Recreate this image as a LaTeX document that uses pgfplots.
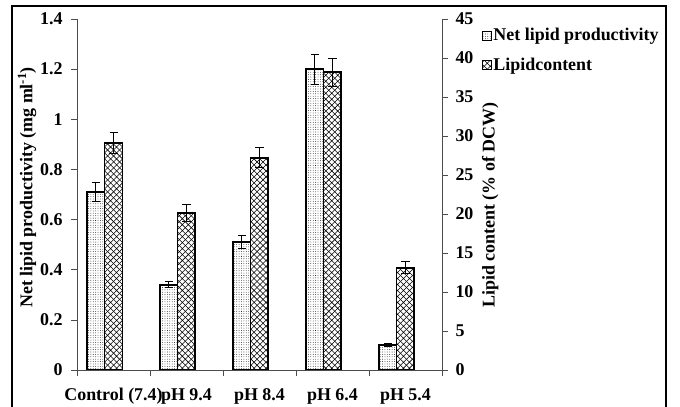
\documentclass[border=0pt]{standalone}
\usepackage{pgfplots}
\pgfplotsset{compat=1.18}
\usepackage{fontspec}
\setmainfont{Liberation Serif}
\usetikzlibrary{patterns}

% fine stipple for the productivity bars
\pgfdeclarepatternformonly{fdots}{\pgfqpoint{-1pt}{-1pt}}{\pgfqpoint{1pt}{1pt}}{\pgfqpoint{2.4pt}{2.4pt}}{%
  \pgfpathcircle{\pgfqpoint{0pt}{0pt}}{0.4pt}\pgfusepath{fill}}
% diagonal crosshatch for the lipid content bars
\pgfdeclarepatternformonly{xhatch}{\pgfqpoint{-1pt}{-1pt}}{\pgfqpoint{7pt}{7pt}}{\pgfqpoint{6pt}{6pt}}{%
  \pgfsetlinewidth{0.55pt}%
  \pgfpathmoveto{\pgfqpoint{0pt}{0pt}}\pgfpathlineto{\pgfqpoint{6pt}{6pt}}%
  \pgfpathmoveto{\pgfqpoint{0pt}{6pt}}\pgfpathlineto{\pgfqpoint{6pt}{0pt}}%
  \pgfusepath{stroke}}

\pgfplotsset{
  base/.style={
    scale only axis, width=365bp, height=351bp,
    xmin=-0.5, xmax=4.5,
    font=\fontsize{18}{20}\selectfont\bfseries,
    /pgf/number format/assume math mode=true,
    tick align=outside, major tick length=6bp,
    tick style={gray!60!black, line width=0.6pt},
    axis line style={gray!60!black, line width=0.6pt},
    ybar, bar width=17.5bp, bar shift=0bp,
  },
  errstyle/.style={error bars/.cd, y dir=both, y explicit,
    error bar style={black, line width=1pt}, error mark options={black, line width=1pt, mark size=4bp, rotate=90}},
}

\begin{document}
\begin{tikzpicture}
\path[use as bounding box] (-77bp,-37bp) rectangle (603bp,370bp);
\draw[line width=2bp] (-65bp,-45bp) -- (-65bp,364bp) -- (589bp,364bp) -- (589bp,-45bp);

\begin{axis}[base,
  axis x line*=bottom, axis y line*=left,
  ymin=0, ymax=1.4, ytick={0,0.2,...,1.4},
  yticklabel style={/pgf/number format/fixed, /pgf/number format/precision=1, xshift=-5bp},
  xtick={0,1,2,3,4},
  xticklabels={Control (7.4),pH 9.4,pH 8.4,pH 6.4,pH 5.4},
  x tick style={draw=none},
  extra x ticks={-0.5,0.5,1.5,2.5,3.5,4.5},
  extra x tick labels={},
  extra x tick style={x tick style={draw=gray!60!black}},
  xticklabel style={yshift=-9bp},
  ylabel={Net lipid productivity (mg ml\textsuperscript{-1})},
  ylabel style={at={(axis description cs:-0.137,0.52)}, anchor=center},
]
% net bars sit one bar width left of each category centre
\addplot[draw=black, line width=1.5bp, pattern=fdots, errstyle]
  coordinates {
    (-0.24,0.71) +- (0,0.036)
    (0.76,0.34) +- (0,0.012)
    (1.76,0.51) +- (0,0.027)
    (2.76,1.20) +- (0,0.060)
    (3.76,0.10) +- (0,0.005)
  };
\end{axis}

\begin{axis}[base,
  axis x line=none, axis y line*=right,
  ymin=0, ymax=45, ytick={0,5,...,45},
  yticklabel style={xshift=4bp},
  ylabel={Lipid content (\% of DCW)},
  ylabel style={at={(axis description cs:1.132,0.47)}, anchor=center},
  legend style={at={(axis description cs:1.1,0.985)}, anchor=north west, draw=none, fill=none,
    font=\fontsize{18}{20}\selectfont\bfseries, row sep=12bp,
    /tikz/every even column/.append style={column sep=4bp}},
  legend cell align=left,
  legend image code/.code={\draw[#1, line width=0.8bp] (0bp,-4.5bp) rectangle (9bp,4.5bp);},
]
\addlegendimage{draw=black, pattern=fdots}
\addlegendentry{Net lipid productivity}
\addplot[draw=black, line width=1.5bp, pattern=xhatch, errstyle]
  coordinates {
    (0,29.1) +- (0,1.4)
    (1,20.1) +- (0,1.1)
    (2,27.2) +- (0,1.3)
    (3,38.2) +- (0,1.8)
    (4,13.1) +- (0,0.75)
  };
\addlegendentry{Lipidcontent}
\end{axis}
\end{tikzpicture}
\end{document}
